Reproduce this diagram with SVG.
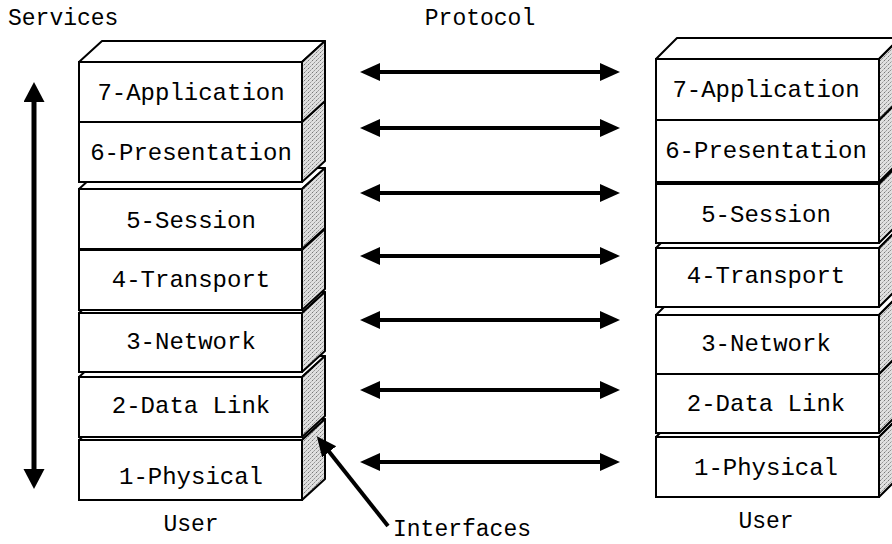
<svg xmlns="http://www.w3.org/2000/svg" width="892" height="544" viewBox="0 0 892 544">
<style>
  text{font-family:"Liberation Mono","Courier New",monospace;fill:#000}
  .lbl{font-size:23px}
  .ly{font-size:24px;text-anchor:middle}
  .front{fill:#fff;stroke:#000;stroke-width:2}
  .top{fill:#fff;stroke:#000;stroke-width:2;stroke-linejoin:round}
  .side{fill:url(#stip);stroke:#000;stroke-width:2;stroke-linejoin:round}
  .arr{stroke:#000;stroke-width:4;fill:none}
</style>
<defs>
  <pattern id="stip" width="4" height="4" patternUnits="userSpaceOnUse">
    <rect width="4" height="4" fill="#e0e0e0"/>
    <rect x="0" y="0" width="1" height="1" fill="#777"/>
    <rect x="2" y="2" width="1" height="1" fill="#999"/>
    <rect x="3" y="1" width="1" height="1" fill="#bbb"/>
    <rect x="1" y="3" width="1" height="1" fill="#aaa"/>
  </pattern>
  <marker id="ah" markerUnits="userSpaceOnUse" markerWidth="22" markerHeight="20" refX="10" refY="9" orient="auto-start-reverse">
    <path d="M0,0 L20,9 L0,18 Z" fill="#000"/>
  </marker>
  <marker id="ahv" markerUnits="userSpaceOnUse" markerWidth="24" markerHeight="22" refX="10" refY="10.5" orient="auto-start-reverse">
    <path d="M0,0 L20,10.5 L0,21 Z" fill="#000"/>
  </marker>
</defs>

<text class="lbl" x="8" y="25">Services</text>
<text class="lbl" x="480" y="25" text-anchor="middle">Protocol</text>

<!-- Left stack -->
<g id="left-stack">
  <g id="L1">
    <polygon class="top" points="79,440 102,419 325,419 302,440"/>
    <polygon class="side" points="302,440 325,419 325,479 302,500"/>
    <rect class="front" x="79" y="440" width="223" height="60"/>
    <text class="ly" x="191" y="484">1-Physical</text>
  </g>
  <g id="L2">
    <polygon class="top" points="79,377 102,356 325,356 302,377"/>
    <polygon class="side" points="302,377 325,356 325,416 302,437"/>
    <rect class="front" x="79" y="377" width="223" height="60"/>
    <text class="ly" x="191" y="413">2-Data Link</text>
  </g>
  <g id="L3">
    <polygon class="top" points="79,313 102,292 325,292 302,313"/>
    <polygon class="side" points="302,313 325,292 325,351 302,372"/>
    <rect class="front" x="79" y="313" width="223" height="59"/>
    <text class="ly" x="191" y="349">3-Network</text>
  </g>
  <g id="L4">
    <polygon class="top" points="79,250 102,229 325,229 302,250"/>
    <polygon class="side" points="302,250 325,229 325,289 302,310"/>
    <rect class="front" x="79" y="250" width="223" height="60"/>
    <text class="ly" x="191" y="287">4-Transport</text>
  </g>
  <g id="L5">
    <polygon class="top" points="79,189 102,168 325,168 302,189"/>
    <polygon class="side" points="302,189 325,168 325,228 302,249"/>
    <rect class="front" x="79" y="189" width="223" height="60"/>
    <text class="ly" x="191" y="228">5-Session</text>
  </g>
  <g id="L6">
    <polygon class="top" points="79,122 102,101 325,101 302,122"/>
    <polygon class="side" points="302,122 325,101 325,161 302,182"/>
    <rect class="front" x="79" y="122" width="223" height="60"/>
    <text class="ly" x="191" y="160">6-Presentation</text>
  </g>
  <g id="L7">
    <polygon class="top" points="79,62 102,41 325,41 302,62"/>
    <polygon class="side" points="302,62 325,41 325,101 302,122"/>
    <rect class="front" x="79" y="62" width="223" height="60"/>
    <text class="ly" x="191" y="100">7-Application</text>
  </g>
</g>

<!-- Right stack -->
<g id="right-stack">
  <g id="R1">
    <polygon class="top" points="656,437 677,416 900,416 879,437"/>
    <polygon class="side" points="879,437 900,416 900,476 879,497"/>
    <rect class="front" x="656" y="437" width="223" height="60"/>
    <text class="ly" x="766" y="475">1-Physical</text>
  </g>
  <g id="R2">
    <polygon class="top" points="656,374 677,353 900,353 879,374"/>
    <polygon class="side" points="879,374 900,353 900,412 879,433"/>
    <rect class="front" x="656" y="374" width="223" height="59"/>
    <text class="ly" x="766" y="411">2-Data Link</text>
  </g>
  <g id="R3">
    <polygon class="top" points="656,315 677,294 900,294 879,315"/>
    <polygon class="side" points="879,315 900,294 900,353 879,374"/>
    <rect class="front" x="656" y="315" width="223" height="59"/>
    <text class="ly" x="766" y="351">3-Network</text>
  </g>
  <g id="R4">
    <polygon class="top" points="656,248 677,227 900,227 879,248"/>
    <polygon class="side" points="879,248 900,227 900,286 879,307"/>
    <rect class="front" x="656" y="248" width="223" height="59"/>
    <text class="ly" x="766" y="283">4-Transport</text>
  </g>
  <g id="R5">
    <polygon class="top" points="656,184 677,163 900,163 879,184"/>
    <polygon class="side" points="879,184 900,163 900,222 879,243"/>
    <rect class="front" x="656" y="184" width="223" height="59"/>
    <text class="ly" x="766" y="222">5-Session</text>
  </g>
  <g id="R6">
    <polygon class="top" points="656,120 677,99 900,99 879,120"/>
    <polygon class="side" points="879,120 900,99 900,161 879,182"/>
    <rect class="front" x="656" y="120" width="223" height="62"/>
    <text class="ly" x="766" y="158">6-Presentation</text>
  </g>
  <g id="R7">
    <polygon class="top" points="656,59 677,38 900,38 879,59"/>
    <polygon class="side" points="879,59 900,38 900,99 879,120"/>
    <rect class="front" x="656" y="59" width="223" height="61"/>
    <text class="ly" x="766" y="97">7-Application</text>
  </g>
</g>

<g id="connectors">
  <line class="arr" x1="370" y1="72" x2="610" y2="72" marker-start="url(#ah)" marker-end="url(#ah)"/>
  <line class="arr" x1="370" y1="128" x2="610" y2="128" marker-start="url(#ah)" marker-end="url(#ah)"/>
  <line class="arr" x1="370" y1="193" x2="610" y2="193" marker-start="url(#ah)" marker-end="url(#ah)"/>
  <line class="arr" x1="370" y1="256" x2="610" y2="256" marker-start="url(#ah)" marker-end="url(#ah)"/>
  <line class="arr" x1="370" y1="320" x2="610" y2="320" marker-start="url(#ah)" marker-end="url(#ah)"/>
  <line class="arr" x1="370" y1="390" x2="610" y2="390" marker-start="url(#ah)" marker-end="url(#ah)"/>
  <line class="arr" x1="370" y1="462" x2="610" y2="462" marker-start="url(#ah)" marker-end="url(#ah)"/>
  <line class="arr" style="stroke-width:5" x1="34" y1="92" x2="34" y2="479" marker-start="url(#ahv)" marker-end="url(#ahv)"/>
  <line class="arr" x1="388" y1="526" x2="323" y2="444" marker-end="url(#ah)"/>
</g>

<text class="lbl" x="191" y="531" text-anchor="middle">User</text>
<text class="lbl" x="766" y="528" text-anchor="middle">User</text>
<text class="lbl" x="393" y="536">Interfaces</text>
</svg>
